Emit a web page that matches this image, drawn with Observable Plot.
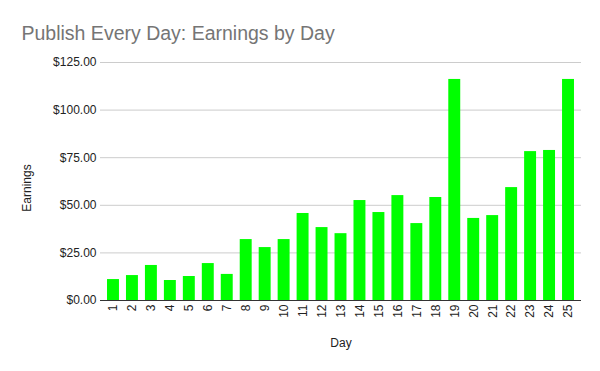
<!DOCTYPE html>
<html>
<head>
<meta charset="utf-8">
<script src="https://cdn.jsdelivr.net/npm/d3@7"></script>
<script src="https://cdn.jsdelivr.net/npm/@observablehq/plot@0.6"></script>
<style>
  html, body { margin: 0; padding: 0; background: #fff; }
</style>
</head>
<body>
<div id="chart"></div>
<script>
const days = [1,2,3,4,5,6,7,8,9,10,11,12,13,14,15,16,17,18,19,20,21,22,23,24,25];
const earnings = [11.0,13.1,18.4,10.5,12.6,19.4,13.7,32.0,27.8,32.0,45.7,38.3,35.1,52.5,46.2,55.1,40.4,54.1,116.1,43.1,44.6,59.3,78.2,78.8,116.1];
const yTicks = [0,25,50,75,100,125];
const title = "Publish Every Day: Earnings by Day";
const xLabel = "Day";
const yLabel = "Earnings";

const data = days.map((d, i) => ({day: d, earnings: earnings[i]}));

const chart = Plot.plot({
  width: 600,
  height: 371,
  marginTop: 62,
  marginBottom: 71,
  marginLeft: 100,
  marginRight: 19,
  style: {fontFamily: "'Liberation Sans', Arial, sans-serif", fontSize: "12px", color: "#222", background: "#fff"},
  x: {type: "band", domain: days, padding: 0.37, round: false, label: null},
  y: {domain: [0, 125], label: null},
  marks: [
    Plot.gridY(yTicks, {stroke: "#cccccc", strokeOpacity: 1}),
    Plot.barY(data, {x: "day", y: "earnings", fill: "#00ff00"}),
    Plot.ruleY([0], {stroke: "#333"}),
    Plot.axisY(yTicks, {tickSize: 0, tickPadding: 4, tickFormat: d => "$" + d.toFixed(2), label: null, fontSize: 12}),
    Plot.axisX({tickSize: 0, tickPadding: 4, tickRotate: -90, label: null, fontSize: 12}),
    Plot.text([yLabel], {frameAnchor: "left", rotate: -90, textAnchor: "middle", lineAnchor: "middle", dx: -73, dy: 6.5, fontSize: 12, fill: "#222"}),
    Plot.text([xLabel], {frameAnchor: "bottom", textAnchor: "middle", lineAnchor: "middle", dy: 43, fontSize: 12, fill: "#222"}),
    Plot.text([title], {frameAnchor: "top-left", textAnchor: "start", lineAnchor: "bottom", dx: -79, dy: -23, fontSize: 19.5, fill: "#757575"})
  ]
});
document.getElementById("chart").appendChild(chart);
</script>
</body>
</html>
